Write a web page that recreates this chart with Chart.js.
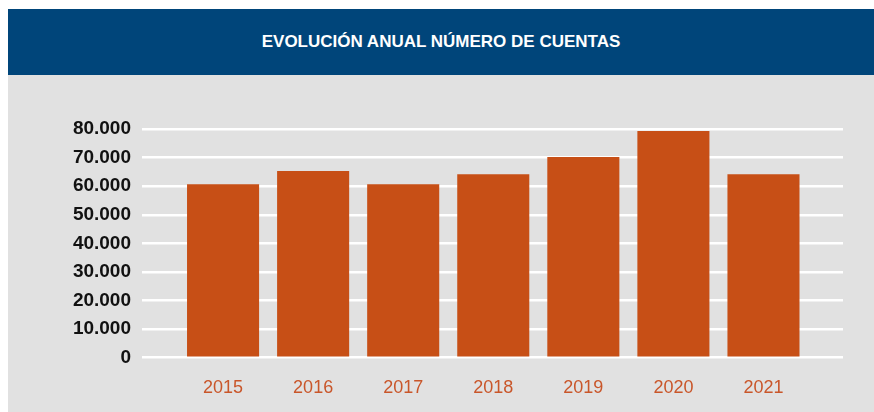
<!DOCTYPE html>
<html>
<head>
<meta charset="utf-8">
<script src="https://cdn.jsdelivr.net/npm/chart.js@4"></script>
<style>
    html, body { margin: 0; padding: 0; background: #ffffff; }
    #wrap { position: absolute; left: 8px; top: 9px; width: 866px; height: 403px; }
    #header {
        height: 66px; background: #00457a; color: #ffffff;
        font-family: "Liberation Sans", sans-serif;
        font-weight: bold; font-size: 17px; text-align: center; line-height: 66px;
    }
    #box { position: relative; width: 866px; height: 337px; background: #e1e1e1; }
</style>
</head>
<body>
<div id="wrap">
    <div id="header">EVOLUCIÓN ANUAL NÚMERO DE CUENTAS</div>
    <div id="box"><canvas id="myChart" width="866" height="337"></canvas></div>
</div>
<script>
// 年ごとのデータ
const years = [2015, 2016, 2017, 2018, 2019, 2020, 2021];
const cuentas = [60700, 65300, 60700, 64200, 70200, 79300, 64200];
const yTicks = [0, 10000, 20000, 30000, 40000, 50000, 60000, 70000, 80000];

// 80000 -> "80.000"
function fmt(v) {
    return String(v).replace(/\B(?=(\d{3})+(?!\d))/g, '.');
}

const ctx = document.getElementById('myChart').getContext('2d');
const myChart = new Chart(ctx, {
    type: 'bar',
    data: {
        datasets: [{
            label: 'Cuentas',
            data: years.map((y, i) => ({ x: y, y: cuentas[i] })),
            backgroundColor: '#c74f16',
            borderWidth: 0,
            categoryPercentage: 1,
            barPercentage: 0.8
        }]
    },
    options: {
        responsive: false,
        animation: false,
        layout: { padding: { top: 54, right: 31, left: 0, bottom: 0 } },
        plugins: {
            legend: { display: false },
            tooltip: { enabled: false }
        },
        scales: {
            x: {
                type: 'linear',
                offset: false,
                min: 2014.1,
                max: 2021.883,
                afterBuildTicks: scale => { scale.ticks = years.map(v => ({ value: v })); },
                afterFit: scale => { scale.height = 54.3; },
                grid: { display: false, drawTicks: false },
                border: { display: false },
                ticks: {
                    color: '#c9562a',
                    padding: 20,
                    maxRotation: 0,
                    autoSkip: false,
                    font: { family: 'Liberation Sans', size: 18 },
                    callback: v => String(v)
                }
            },
            y: {
                min: 0,
                max: 80000,
                afterBuildTicks: scale => { scale.ticks = yTicks.map(v => ({ value: v })); },
                afterFit: scale => { scale.width = 134; },
                grid: { color: '#ffffff', lineWidth: 2.5, drawTicks: false },
                border: { display: false },
                ticks: {
                    color: '#111111',
                    padding: 11,
                    font: { family: 'Liberation Sans', size: 19, weight: 'bold' },
                    callback: v => fmt(v)
                }
            }
        }
    }
});
</script>
</body>
</html>
